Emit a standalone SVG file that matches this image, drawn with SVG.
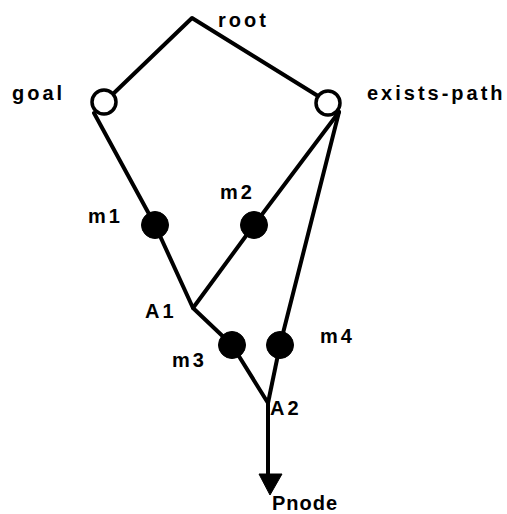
<svg xmlns="http://www.w3.org/2000/svg" width="507" height="514" viewBox="0 0 507 514">
<style>
.e{stroke:#000;stroke-width:4;fill:none;stroke-linecap:round;stroke-linejoin:round}
.o{fill:#fff;stroke:#000;stroke-width:3.5}
.f{fill:#000;stroke:#000;stroke-width:1}
text{font-family:"Liberation Sans",Arial,sans-serif;font-size:20px;font-weight:bold;letter-spacing:3px;fill:#000}
</style>
<rect width="507" height="514" fill="#fff"/>
<g id="connectors">
<polyline class="e" points="114,93 192,18 318,96"/>
<polyline class="e" points="94,113 155,225 193,308 232,345"/>
<line class="e" x1="339" y1="112" x2="254" y2="225"/>
<line class="e" x1="254" y1="225" x2="193" y2="308"/>
<line class="e" x1="339" y1="112" x2="280" y2="345"/>
<line class="e" x1="232" y1="345" x2="268" y2="403"/>
<line class="e" x1="280" y1="345" x2="268" y2="403"/>
<line class="e" x1="268" y1="403" x2="268" y2="478"/>
<path d="M259,474 L282,474 L270,495 Z" fill="#000" stroke="#000" stroke-width="1" stroke-linejoin="round"/>
</g>
<g id="root"><text x="218" y="27">root</text></g>
<g id="goal"><circle class="o" cx="104" cy="102" r="12"/><text x="12" y="100">goal</text></g>
<g id="exists-path"><circle class="o" cx="328" cy="103" r="12"/><text x="367" y="100">exists-path</text></g>
<g id="m1"><circle class="f" cx="155" cy="225" r="13.5"/><text x="88" y="223">m1</text></g>
<g id="m2"><circle class="f" cx="254" cy="225" r="13.5"/><text x="220" y="199">m2</text></g>
<g id="A1"><text x="145" y="318">A1</text></g>
<g id="m3"><circle class="f" cx="232" cy="345" r="13.5"/><text x="172" y="367">m3</text></g>
<g id="m4"><circle class="f" cx="280" cy="345" r="13.5"/><text x="320" y="343">m4</text></g>
<g id="A2"><text x="270" y="415">A2</text></g>
<g id="Pnode"><text x="272" y="510" style="letter-spacing:1px">Pnode</text></g>
</svg>
